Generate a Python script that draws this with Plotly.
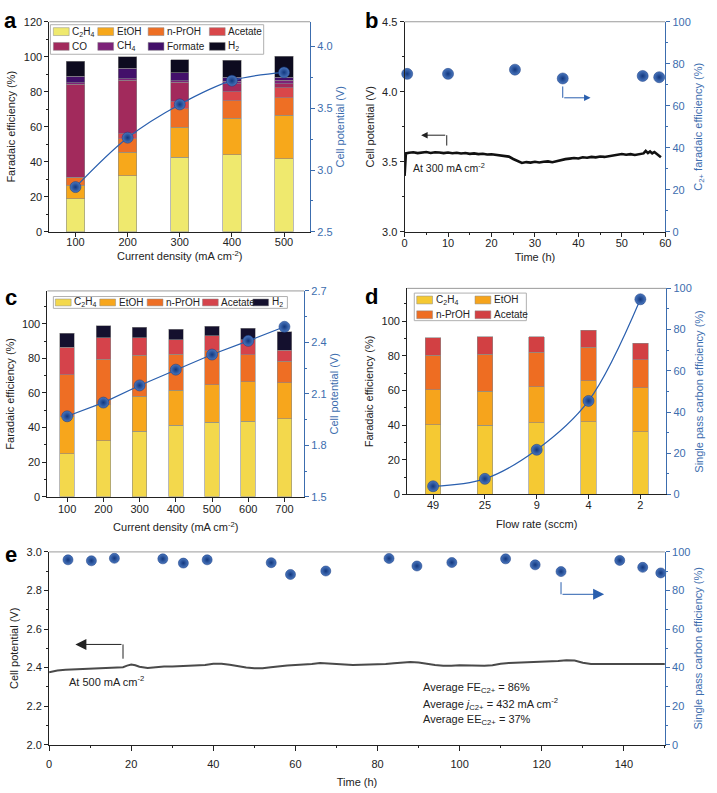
import plotly.graph_objects as go

# ------------------------------------------------------------
# data
# ------------------------------------------------------------
a_names = ["C<sub>2</sub>H<sub>4</sub>", "EtOH", "n-PrOH", "Acetate",
           "CO", "CH<sub>4</sub>", "Formate", "H<sub>2</sub>"]
a_current = ["100", "200", "300", "400", "500"]
a_c2h4 = [18.9, 32.0, 42.6, 43.9, 41.7]
a_etoh = [7.8, 13.4, 17.2, 21.1, 25.0]
a_prop = [4.1, 7.7, 10.5, 10.0, 9.8]
a_acet = [0.4, 2.9, 4.1, 5.0, 5.8]
a_co = [53.1, 30.5, 11.0, 4.7, 2.4]
a_ch4 = [0.8, 0.8, 0.8, 1.3, 1.8]
a_form = [3.9, 6.2, 4.6, 2.4, 1.9]
a_h2 = [8.4, 6.5, 7.5, 9.6, 11.9]
a_potential = [2.862, 3.262, 3.531, 3.723, 3.790]

b_time = [0, 0.3, 1, 2, 3, 4, 5, 6, 7, 8, 9, 10, 11, 12, 13, 14, 15, 16, 17, 18,
          19, 20, 21, 22, 23, 24, 25, 26, 27, 28, 29, 30, 31, 32, 33, 34, 35, 36,
          37, 38, 39, 40, 41, 42, 43, 44, 45, 46, 47, 48, 49, 50, 51, 52, 53, 54,
          55, 55.5, 56, 56.5, 57, 57.5, 58, 58.5, 59]
b_potential = [3.40, 3.56, 3.565, 3.568, 3.562, 3.567, 3.570, 3.563, 3.568, 3.566,
               3.562, 3.566, 3.561, 3.565, 3.559, 3.563, 3.557, 3.560, 3.555, 3.558,
               3.552, 3.554, 3.549, 3.547, 3.544, 3.537, 3.520, 3.504, 3.492, 3.498,
               3.494, 3.500, 3.495, 3.500, 3.503, 3.497, 3.505, 3.512, 3.519, 3.523,
               3.527, 3.524, 3.532, 3.529, 3.535, 3.532, 3.538, 3.535, 3.541, 3.546,
               3.551, 3.556, 3.551, 3.555, 3.549, 3.556, 3.560, 3.578, 3.562, 3.574,
               3.560, 3.570, 3.558, 3.545, 3.532]
b_fe_time = [0.6, 10.0, 25.4, 36.4, 54.8, 58.6]
b_fe = [75.2, 75.2, 77.2, 73.0, 74.2, 73.6]

c_names = ["C<sub>2</sub>H<sub>4</sub>", "EtOH", "n-PrOH", "Acetate", "H<sub>2</sub>"]
c_current = ["100", "200", "300", "400", "500", "600", "700"]
c_c2h4 = [25.0, 32.3, 37.8, 41.2, 43.1, 43.8, 45.0]
c_etoh = [21.5, 21.0, 20.3, 20.3, 21.8, 22.8, 21.0]
c_prop = [24.1, 26.2, 23.7, 20.9, 19.5, 15.4, 12.2]
c_acet = [15.7, 12.5, 10.0, 8.5, 8.6, 8.8, 6.6]
c_h2 = [8.2, 7.0, 6.1, 5.9, 5.5, 6.7, 10.6]
c_potential = [1.969, 2.049, 2.149, 2.241, 2.329, 2.409, 2.491]

d_names = ["C<sub>2</sub>H<sub>4</sub>", "EtOH", "n-PrOH", "Acetate"]
d_flow = ["49", "25", "9", "4", "2"]
d_c2h4 = [40.3, 40.0, 41.3, 41.9, 36.2]
d_etoh = [20.3, 19.7, 21.0, 23.8, 25.4]
d_prop = [19.7, 21.2, 19.7, 19.3, 16.2]
d_acet = [10.2, 10.2, 9.1, 9.9, 9.5]
d_carbon = [4.0, 7.6, 21.7, 45.4, 94.7]

e_time = [0, 1, 2, 4, 6, 8, 10, 12, 14, 16, 18, 19, 20, 21, 22, 24, 26, 28, 30, 32,
          34, 36, 38, 40, 42, 44, 46, 48, 50, 52, 54, 56, 58, 60, 62, 64, 66, 68, 70,
          72, 74, 76, 78, 80, 82, 84, 86, 88, 90, 92, 94, 96, 98, 100, 102, 104, 106,
          108, 110, 112, 114, 116, 118, 120, 122, 124, 126, 128, 130, 132, 134, 136,
          138, 140, 142, 144, 146, 148, 150]
e_potential = [2.375, 2.382, 2.385, 2.388, 2.390, 2.392, 2.393, 2.395, 2.396, 2.398,
               2.402, 2.410, 2.416, 2.412, 2.404, 2.398, 2.402, 2.405, 2.406, 2.407,
               2.408, 2.410, 2.413, 2.420, 2.420, 2.414, 2.406, 2.400, 2.396, 2.396,
               2.402, 2.408, 2.411, 2.413, 2.414, 2.418, 2.423, 2.420, 2.416, 2.414,
               2.413, 2.414, 2.415, 2.416, 2.418, 2.422, 2.427, 2.429, 2.426, 2.418,
               2.413, 2.410, 2.409, 2.412, 2.411, 2.409, 2.409, 2.412, 2.420, 2.424,
               2.425, 2.426, 2.428, 2.430, 2.432, 2.434, 2.438, 2.436, 2.425, 2.419,
               2.418, 2.418, 2.418, 2.418, 2.417, 2.418, 2.420, 2.418, 2.418]
e_eff_time = [4.6, 10.3, 15.9, 27.7, 32.7, 38.5, 54.1, 58.8, 67.4, 82.8, 89.6, 98.1,
              111.2, 118.4, 124.7, 139.0, 144.6, 149.0]
e_eff = [95.9, 95.4, 96.7, 96.4, 94.2, 95.9, 94.4, 88.3, 90.1, 96.6, 92.7, 94.5,
         96.4, 93.3, 89.8, 95.6, 92.0, 89.1]

# ------------------------------------------------------------
# style
# ------------------------------------------------------------
W, H = 717, 793
FONT = "Liberation Sans, Arial, sans-serif"
BLACK = "#222222"
BLUE = "#3C6DAE"
LINE_BLUE = "#2A5FAE"
GREY = "#9a9a9a"

a_colors = ["#EFE96E", "#F7A81B", "#EE6F24", "#D9474A",
            "#A22A5C", "#7D2279", "#43106A", "#0D0B1F"]
c_colors = ["#F3D84C", "#F7A61C", "#EE6E24", "#D5434B", "#14102E"]
d_colors = ["#F5C933", "#F6A41C", "#EE6D22", "#D24043"]


def px(x):
    return x / W


def py(y):
    return 1 - y / H


def ball(size):
    return dict(size=size, color="#4A77BE",
                gradient=dict(type="radial", color="#12377E"),
                line=dict(color="#12377E", width=0.5))


def axis(color, title, standoff, **kw):
    d = dict(showline=True, linecolor=color, linewidth=1, ticks="outside",
             ticklen=4, tickcolor=color, tickfont=dict(color=color, size=11),
             showgrid=False, zeroline=False,
             title=dict(text=title, standoff=standoff, font=dict(color=color, size=11)))
    d.update(kw)
    return d


def minor(step):
    return dict(dtick=step, ticklen=2, ticks="outside")


fig = go.Figure()

# ---------------- panel a ----------------
for name, vals, col in zip(a_names,
                           [a_c2h4, a_etoh, a_prop, a_acet, a_co, a_ch4, a_form, a_h2],
                           a_colors):
    fig.add_trace(go.Bar(x=a_current, y=vals, name=name, width=0.35,
                         marker=dict(color=col, line=dict(color="#8a8a8a", width=0.6)),
                         xaxis="x", yaxis="y", showlegend=False))
fig.add_trace(go.Scatter(x=a_current, y=a_potential, mode="lines+markers",
                         line=dict(color=LINE_BLUE, width=1.2, shape="spline"),
                         marker=ball(11), xaxis="x", yaxis="y2",
                         showlegend=False, cliponaxis=False))

# ---------------- panel b ----------------
fig.add_trace(go.Scatter(x=b_time, y=b_potential, mode="lines",
                         line=dict(color="#111111", width=2.6),
                         xaxis="x2", yaxis="y3", showlegend=False))
fig.add_trace(go.Scatter(x=b_fe_time, y=b_fe, mode="markers", marker=ball(11),
                         xaxis="x2", yaxis="y4", showlegend=False, cliponaxis=False))

# ---------------- panel c ----------------
for name, vals, col in zip(c_names, [c_c2h4, c_etoh, c_prop, c_acet, c_h2], c_colors):
    fig.add_trace(go.Bar(x=c_current, y=vals, name=name, width=0.4,
                         marker=dict(color=col, line=dict(color="#8a8a8a", width=0.6)),
                         xaxis="x3", yaxis="y5", showlegend=False))
fig.add_trace(go.Scatter(x=c_current, y=c_potential, mode="lines+markers",
                         line=dict(color=LINE_BLUE, width=1.2),
                         marker=ball(11), xaxis="x3", yaxis="y6",
                         showlegend=False, cliponaxis=False))

# ---------------- panel d ----------------
for name, vals, col in zip(d_names, [d_c2h4, d_etoh, d_prop, d_acet], d_colors):
    fig.add_trace(go.Bar(x=d_flow, y=vals, name=name, width=0.3,
                         marker=dict(color=col, line=dict(color="#8a8a8a", width=0.6)),
                         xaxis="x4", yaxis="y7", showlegend=False))
fig.add_trace(go.Scatter(x=d_flow, y=d_carbon, mode="lines+markers",
                         line=dict(color=LINE_BLUE, width=1.2, shape="spline"),
                         marker=ball(11), xaxis="x4", yaxis="y8",
                         showlegend=False, cliponaxis=False))

# ---------------- panel e ----------------
fig.add_trace(go.Scatter(x=e_time, y=e_potential, mode="lines",
                         line=dict(color="#4a4a4a", width=2),
                         xaxis="x5", yaxis="y9", showlegend=False))
fig.add_trace(go.Scatter(x=e_eff_time, y=e_eff, mode="markers", marker=ball(10),
                         xaxis="x5", yaxis="y10", showlegend=False, cliponaxis=False))

# ------------------------------------------------------------
# axes
# ------------------------------------------------------------
cm2 = "(mA cm<sup>-2</sup>)"
XS = -4  # x tick labels sit a little closer to the axis in the top panels
fig.update_layout(
    xaxis=axis(BLACK, "Current density " + cm2, 5, ticklabelstandoff=XS,
               domain=[px(47), px(311)], anchor="y"),
    yaxis=axis(BLACK, "Faradaic efficiency (%)", 5,
               domain=[py(229.3), py(16)], anchor="x", range=[0, 120],
               dtick=20, minor=minor(10)),
    yaxis2=axis(BLUE, "Cell potential (V)", 4,
                overlaying="y", anchor="x", side="right", range=[2.5, 4.2],
                dtick=0.5, tickformat=".1f", minor=minor(0.25)),

    xaxis2=axis(BLACK, "Time (h)", 5, ticklabelstandoff=XS + 1,
                domain=[px(406.7), px(670.7)], anchor="y3", range=[0, 60],
                dtick=10, minor=minor(5)),
    yaxis3=axis(BLACK, "Cell potential (V)", 5,
                domain=[py(229.3), py(16)], anchor="x2", range=[3.0, 4.5],
                dtick=0.5, tickformat=".1f", minor=minor(0.25)),
    yaxis4=axis(BLUE, "C<sub>2+</sub> faradaic efficiency (%)", 4,
                overlaying="y3", anchor="x2", side="right", range=[0, 100],
                dtick=20, minor=minor(10)),

    xaxis3=axis(BLACK, "Current density " + cm2, 9, ticklabelstandoff=XS + 2,
                domain=[px(45), px(305)], anchor="y5"),
    yaxis5=axis(BLACK, "Faradaic efficiency (%)", 5,
                domain=[py(498.3), py(289.3)], anchor="x3", range=[0, 119],
                dtick=20, minor=minor(10)),
    yaxis6=axis(BLUE, "Cell potential (V)", 4,
                overlaying="y5", anchor="x3", side="right", range=[1.5, 2.7],
                dtick=0.3, tickformat=".1f", minor=minor(0.15)),

    xaxis4=axis(BLACK, "Flow rate (sccm)", 10, ticklabelstandoff=XS,
                domain=[px(409.3), px(671.7)], anchor="y7"),
    yaxis7=axis(BLACK, "Faradaic efficiency (%)", 5,
                domain=[py(496), py(286.7)], anchor="x4", range=[0, 119],
                dtick=20, minor=minor(10)),
    yaxis8=axis(BLUE, "Single pass carbon efficiency (%)", 4,
                overlaying="y7", anchor="x4", side="right", range=[0, 100],
                dtick=20, minor=minor(10)),

    xaxis5=axis(BLACK, "Time (h)", 9, ticklabelstandoff=4, ticklen=5,
                domain=[px(46.7), px(670.3)], anchor="y9", range=[0, 150],
                dtick=20, minor=minor(10)),
    yaxis9=axis(BLACK, "Cell potential (V)", 5,
                domain=[py(750), py(554.3)], anchor="x5", range=[2.0, 3.0],
                dtick=0.2, tickformat=".1f", minor=minor(0.1)),
    yaxis10=axis(BLUE, "Single pass carbon efficiency (%)", 4,
                 overlaying="y9", anchor="x5", side="right", range=[0, 100],
                 dtick=20, minor=minor(10)),
)

# grey top frame of each panel
for xa, ya in [("x", "y"), ("x2", "y3"), ("x3", "y5"), ("x4", "y7"), ("x5", "y9")]:
    fig.add_shape(type="line", xref=xa + " domain", yref=ya + " domain",
                  x0=0, x1=1, y0=1, y1=1, line=dict(color=GREY, width=1))


# ------------------------------------------------------------
# legend boxes (drawn as keys in paper coordinates)
# ------------------------------------------------------------
def key(names, colors, col_x, row_y, ncols, box, sw=16, sh=8):
    x0, y0, x1, y1 = box
    fig.add_shape(type="rect", xref="paper", yref="paper",
                  x0=px(x0), x1=px(x1), y0=py(y1), y1=py(y0),
                  line=dict(color="#b0b0b0", width=1), fillcolor="white", layer="above")
    for i, (n, c) in enumerate(zip(names, colors)):
        xs, yc = col_x[i % ncols], row_y[i // ncols]
        fig.add_shape(type="rect", xref="paper", yref="paper",
                      x0=px(xs), x1=px(xs + sw), y0=py(yc + sh / 2), y1=py(yc - sh / 2),
                      fillcolor=c, line=dict(color="#8a8a8a", width=0.5), layer="above")
        fig.add_annotation(xref="paper", yref="paper", x=px(xs + sw + 1), y=py(yc),
                           text=n, showarrow=False, xanchor="left", yanchor="middle",
                           font=dict(size=10, color=BLACK))


key(a_names, a_colors, [51, 96, 147, 209], [26, 41], 4, (48, 19, 264, 49))
key(c_names, c_colors, [53, 98, 146, 202, 253], [301], 5, (51, 295, 288, 307), sh=7)
key(d_names, d_colors, [419, 478], [298.5, 313.5], 2, (416.5, 291.5, 530, 319.5))


# ------------------------------------------------------------
# arrows and notes
# ------------------------------------------------------------
def bent_arrow(xa, ya, x_bend, y_start, y_bend, x_head, color, size):
    fig.add_shape(type="line", xref=xa, yref=ya, x0=x_bend, x1=x_bend,
                  y0=y_start, y1=y_bend, line=dict(color=color, width=1))
    fig.add_annotation(xref=xa, yref=ya, axref=xa, ayref=ya, x=x_head, y=y_bend,
                       ax=x_bend, ay=y_bend, text="", showarrow=True, arrowhead=2,
                       arrowsize=size, arrowwidth=1, arrowcolor=color)


bent_arrow("x2", "y3", 9.7, 3.616, 3.69, 3.8, BLACK, 1.3)
bent_arrow("x2", "y4", 36.4, 69.2, 63.8, 42.8, LINE_BLUE, 1.3)
bent_arrow("x5", "y9", 18.0, 2.446, 2.52, 6.4, BLACK, 2.2)
bent_arrow("x5", "y10", 124.7, 84.3, 78.0, 135.2, LINE_BLUE, 2.2)

notes = [
    ("x2", "y3", 1.5, 3.462, "At 300 mA cm<sup>-2</sup>", 10.5),
    ("x5", "y9", 4.4, 2.33, "At 500 mA cm<sup>-2</sup>", 11),
    ("x5", "y9", 90.5, 2.295, "Average FE<sub>C2+</sub> = 86%", 11),
    ("x5", "y9", 90.5, 2.212, "Average <i>j</i><sub>C2+</sub> = 432 mA cm<sup>-2</sup>", 11),
    ("x5", "y9", 90.5, 2.130, "Average EE<sub>C2+</sub> = 37%", 11),
]
for xa, ya, x, y, t, s in notes:
    fig.add_annotation(xref=xa, yref=ya, x=x, y=y, text=t, showarrow=False,
                       xanchor="left", yanchor="middle", font=dict(size=s, color=BLACK))

for letter, x, y in [("a", 8, 15), ("b", 373, 15), ("c", 8, 296), ("d", 373, 295),
                     ("e", 8, 557)]:
    fig.add_annotation(xref="paper", yref="paper", x=px(x), y=py(y), text="<b>%s</b>" % letter,
                       showarrow=False, xanchor="center", yanchor="middle",
                       font=dict(size=22, color="black"))

fig.update_layout(
    width=W, height=H, margin=dict(l=0, r=0, t=0, b=0),
    barmode="stack", bargap=0.5,
    paper_bgcolor="white", plot_bgcolor="white",
    font=dict(family=FONT, size=11, color=BLACK),
    showlegend=False,
)

# the page body has a default 8px margin; drop it so the figure fills the window
fig.write_html("out.html", config={"displayModeBar": False},
               post_script="document.body.style.margin='0';"
                           "document.body.style.overflow='hidden';")
